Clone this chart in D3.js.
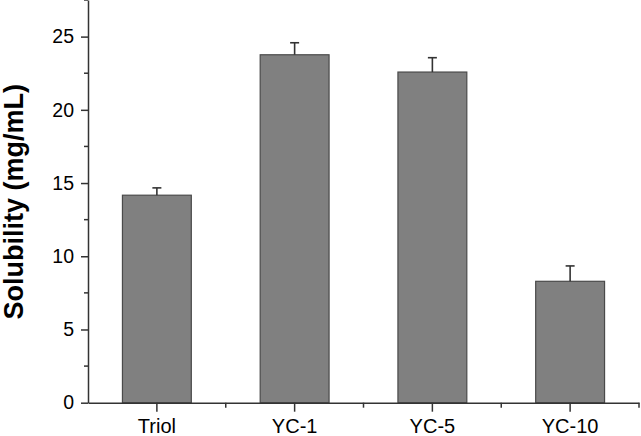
<!DOCTYPE html>
<html>
<head>
<meta charset="utf-8">
<script src="https://cdn.jsdelivr.net/npm/d3@7"></script>
<style>
body { margin: 0; background: #fff; }
svg { display: block; }
</style>
</head>
<body>
<script>
// data
const categories = ["Triol", "YC-1", "YC-5", "YC-10"];
const solubility = [14.17, 23.76, 22.58, 8.29];
const errors = [0.5, 0.82, 0.98, 1.05];
const yTicks = [0, 5, 10, 15, 20, 25];

const width = 641, height = 436;
const plotLeft = 88, plotRight = 639, plotTop = 0, plotBottom = 402.7;

const svg = d3.select("body").append("svg")
	.attr("width", width)
	.attr("height", height);

const x = d3.scaleBand()
	.domain(categories)
	.range([plotLeft, plotRight])
	.paddingInner(0)
	.paddingOuter(0);

const y = d3.scaleLinear()
	.domain([0, 27.5])
	.range([plotBottom, plotTop]);

const axisColor = "#333";
const fontFam = "Liberation Sans, Arial, sans-serif";

// bars
svg.append("g")
	.selectAll("rect")
	.data(categories)
	.join("rect")
	.attr("x", (d) => x(d) + x.bandwidth() * 0.25)
	.attr("y", (d, i) => y(solubility[i]))
	.attr("width", x.bandwidth() * 0.5)
	.attr("height", (d, i) => y(0) - y(solubility[i]))
	.attr("fill", "#808080")
	.attr("stroke", "#4a4a4a")
	.attr("stroke-width", 1.2);

// error bars (upper only)
const eb = svg.append("g").attr("stroke", "#333").attr("stroke-width", 1.6);
eb.selectAll("line.v")
	.data(categories)
	.join("line")
	.attr("class", "v")
	.attr("x1", (d) => x(d) + x.bandwidth() / 2)
	.attr("x2", (d) => x(d) + x.bandwidth() / 2)
	.attr("y1", (d, i) => y(solubility[i]))
	.attr("y2", (d, i) => y(solubility[i] + errors[i]));
eb.selectAll("line.c")
	.data(categories)
	.join("line")
	.attr("class", "c")
	.attr("x1", (d) => x(d) + x.bandwidth() / 2 - 4.5)
	.attr("x2", (d) => x(d) + x.bandwidth() / 2 + 4.5)
	.attr("y1", (d, i) => y(solubility[i] + errors[i]))
	.attr("y2", (d, i) => y(solubility[i] + errors[i]));

// y axis
const yAxis = svg.append("g")
	.attr("transform", `translate(${plotLeft},0)`)
	.call(d3.axisLeft(y).tickValues(yTicks).tickSize(7).tickPadding(7).tickSizeOuter(0));
yAxis.select(".domain").attr("stroke", axisColor).attr("stroke-width", 1.5);
yAxis.selectAll(".tick line").attr("stroke", axisColor).attr("stroke-width", 1.5);
yAxis.selectAll("text").attr("font-family", fontFam).attr("font-size", 19.5).attr("fill", "#000");

// minor y ticks
svg.append("g")
	.selectAll("line")
	.data(yTicks.map((t) => t + 2.5))
	.join("line")
	.attr("x1", plotLeft - 4)
	.attr("x2", plotLeft)
	.attr("y1", (d) => y(d))
	.attr("y2", (d) => y(d))
	.attr("stroke", axisColor)
	.attr("stroke-width", 1.5);

// x axis
const xAxis = svg.append("g")
	.attr("transform", `translate(0,${plotBottom})`)
	.call(d3.axisBottom(x).tickSize(9).tickPadding(7).tickSizeOuter(0));
xAxis.select(".domain").attr("stroke", axisColor).attr("stroke-width", 1.5);
xAxis.selectAll(".tick line").attr("stroke", axisColor).attr("stroke-width", 1.5);
xAxis.selectAll("text").attr("font-family", fontFam).attr("font-size", 20).attr("fill", "#000");

// minor x ticks at band edges
svg.append("g")
	.selectAll("line")
	.data(categories.slice(1).concat(["end"]))
	.join("line")
	.attr("x1", (d) => d === "end" ? plotRight : x(d))
	.attr("x2", (d) => d === "end" ? plotRight : x(d))
	.attr("y1", plotBottom)
	.attr("y2", plotBottom + 5)
	.attr("stroke", axisColor)
	.attr("stroke-width", 1.5);

// y title
svg.append("text")
	.attr("transform", `translate(23,${(81.7 + 321.7) / 2}) rotate(-90)`)
	.attr("text-anchor", "middle")
	.attr("font-family", fontFam)
	.attr("font-weight", "bold")
	.attr("font-size", 27)
	.text("Solubility (mg/mL)");
</script>
</body>
</html>
